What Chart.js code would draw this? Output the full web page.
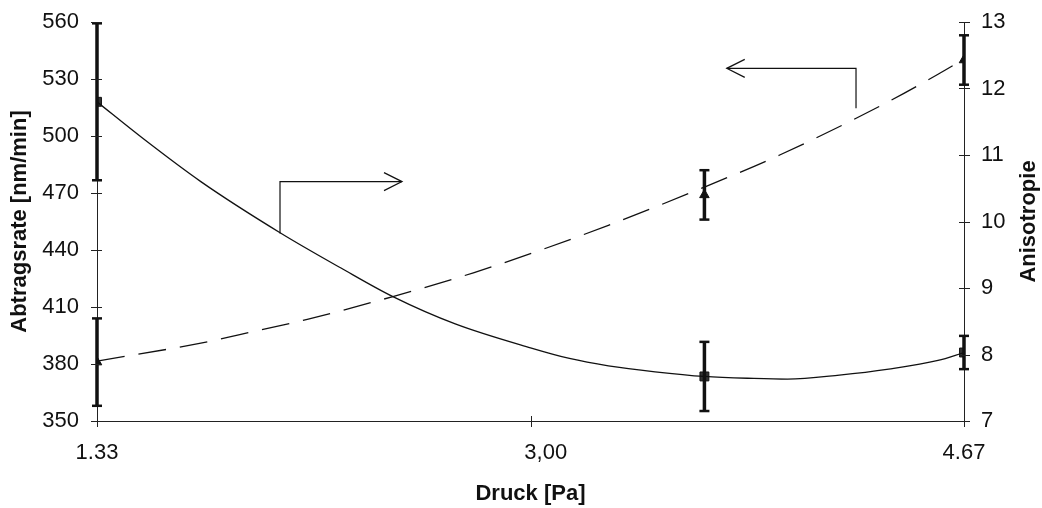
<!DOCTYPE html>
<html>
<head>
<meta charset="utf-8">
<script src="https://cdn.jsdelivr.net/npm/chart.js@4.4.1/dist/chart.umd.min.js"></script>
<style>
html, body { margin: 0; padding: 0; background: #fff; }
#chart { display: block; }
</style>
</head>
<body>
<canvas id="chart" width="1042" height="508"></canvas>
<script>
// measured points (pressure in Pa)
const pressure = [1.33, 3.67, 4.67];
const abtragsrate = [381, 469, 540];
const abtragsrateErr = [23, 13, 13];
const anisotropie = [11.8, 7.67, 8.03];
const anisotropieErr = [1.18, 0.52, 0.25];

// trend curves
const rateTrendX = [1.33, 1.73, 1.88, 2.14, 2.47, 2.78, 3.04, 3.30, 3.65, 3.96, 4.35, 4.57, 4.67];
const rateTrendY = [381.5, 391, 395.5, 403.5, 415.5, 428, 440, 453, 472, 490, 516, 532.5, 540.5];
const anisoTrendX = [1.33, 1.51, 1.73, 2.04, 2.27, 2.47, 2.71, 3.00, 3.15, 3.30, 3.48, 3.67, 3.86, 3.99, 4.19, 4.38, 4.57, 4.67];
const anisoTrendY = [11.80, 11.24, 10.60, 9.82, 9.30, 8.87, 8.46, 8.10, 7.94, 7.83, 7.74, 7.67, 7.64, 7.63, 7.69, 7.78, 7.91, 8.03];

const xTicks = [1.33, 3.00, 4.67];
const xTickLabels = ['1.33', '3,00', '4.67'];

const FONT = '"Liberation Sans", Arial, sans-serif';
const black = '#111';
const pairs = (xs, ys) => xs.map((x, i) => ({ x: x, y: ys[i] }));

Chart.defaults.font.family = FONT;
Chart.defaults.color = black;

function line(ctx, pts) {
    ctx.beginPath();
    pts.forEach((p, i) => i ? ctx.lineTo(p[0], p[1]) : ctx.moveTo(p[0], p[1]));
    ctx.stroke();
}

// y axes: fixed width, no extra top/bottom padding for labels
const fitY = width => s => {
    s.width = width;
    s.paddingTop = 0;
    s.paddingBottom = 0;
};

// error bars, arrows, crossing tick marks, right axis title
const decorations = {
    id: 'decorations',
    afterDatasetsDraw(chart) {
        const { ctx, scales } = chart;
        const x = scales.x;

        ctx.save();
        ctx.strokeStyle = black;
        [[abtragsrate, abtragsrateErr, scales.yRate], [anisotropie, anisotropieErr, scales.yAniso]].forEach(([vals, errs, y]) => {
            vals.forEach((v, i) => {
                const px = x.getPixelForValue(pressure[i]);
                const top = y.getPixelForValue(v + errs[i]);
                const bot = y.getPixelForValue(v - errs[i]);
                ctx.lineWidth = 3.5;
                line(ctx, [[px, top], [px, bot]]);
                ctx.lineWidth = 2.5;
                line(ctx, [[px - 5, top], [px + 5, top]]);
                line(ctx, [[px - 5, bot], [px + 5, bot]]);
            });
        });

        // arrow from solid curve towards right axis
        ctx.lineWidth = 1.2;
        const a1 = [[2.035, 9.82], [2.035, 10.6], [2.505, 10.6]].map(p => [x.getPixelForValue(p[0]), scales.yAniso.getPixelForValue(p[1])]);
        line(ctx, a1);
        const t1 = a1[2];
        line(ctx, [[t1[0] - 18, t1[1] - 9], t1, [t1[0] - 18, t1[1] + 9]]);

        // arrow from dashed curve towards left axis
        const a2 = [[4.254, 514.6], [4.254, 535.6], [3.756, 535.6]].map(p => [x.getPixelForValue(p[0]), scales.yRate.getPixelForValue(p[1])]);
        line(ctx, a2);
        const t2 = a2[2];
        line(ctx, [[t2[0] + 18, t2[1] - 9], t2, [t2[0] + 18, t2[1] + 9]]);
        ctx.restore();
    },
    afterDraw(chart) {
        const { ctx, scales, chartArea } = chart;
        ctx.save();
        ctx.strokeStyle = '#222';
        ctx.lineWidth = 1;
        scales.yRate.ticks.forEach(t => {
            const py = Math.round(scales.yRate.getPixelForValue(t.value)) + 0.5;
            line(ctx, [[chartArea.left - 6, py], [chartArea.left + 5, py]]);
        });
        scales.yAniso.ticks.forEach(t => {
            const py = Math.round(scales.yAniso.getPixelForValue(t.value)) + 0.5;
            line(ctx, [[chartArea.right - 5, py], [chartArea.right + 6, py]]);
        });
        scales.x.ticks.forEach(t => {
            const px = Math.round(scales.x.getPixelForValue(t.value)) + 0.5;
            line(ctx, [[px, chartArea.bottom - 5], [px, chartArea.bottom + 6]]);
        });

        ctx.fillStyle = black;
        ctx.font = 'bold 22px ' + FONT;
        ctx.textAlign = 'center';
        ctx.textBaseline = 'middle';
        ctx.translate(chartArea.right + 65, (chartArea.top + chartArea.bottom) / 2);
        ctx.rotate(-Math.PI / 2);
        ctx.fillText('Anisotropie', 0, 0);
        ctx.restore();
    }
};

new Chart(document.getElementById('chart'), {
    type: 'line',
    data: {
        datasets: [{
            label: 'Anisotropie Trend',
            data: pairs(anisoTrendX, anisoTrendY),
            yAxisID: 'yAniso',
            borderColor: black,
            borderWidth: 1.3,
            pointRadius: 0,
            cubicInterpolationMode: 'monotone',
            fill: false
        }, {
            label: 'Abtragsrate Trend',
            data: pairs(rateTrendX, rateTrendY),
            yAxisID: 'yRate',
            borderColor: black,
            borderWidth: 1.3,
            borderDash: [28, 14],
            pointRadius: 0,
            cubicInterpolationMode: 'monotone',
            fill: false
        }, {
            label: 'Anisotropie',
            data: pairs(pressure, anisotropie),
            yAxisID: 'yAniso',
            showLine: false,
            pointStyle: 'rect',
            pointRadius: 6.3,
            backgroundColor: '#333',
            borderColor: black,
            borderWidth: 1
        }, {
            label: 'Abtragsrate',
            data: pairs(pressure, abtragsrate),
            yAxisID: 'yRate',
            showLine: false,
            pointStyle: 'triangle',
            pointRadius: 5.5,
            backgroundColor: black,
            borderColor: black,
            borderWidth: 1
        }]
    },
    options: {
        responsive: false,
        animation: false,
        layout: { padding: { top: 22, right: 0, bottom: 0, left: 0 } },
        plugins: {
            legend: { display: false },
            tooltip: { enabled: false }
        },
        scales: {
            x: {
                type: 'linear',
                min: 1.33,
                max: 4.67,
                afterBuildTicks: s => { s.ticks = xTicks.map(v => ({ value: v })); },
                afterFit: s => { s.height = 87; },
                ticks: {
                    autoSkip: false,
                    maxRotation: 0,
                    padding: 19,
                    color: black,
                    font: { size: 22 },
                    callback: (v, i) => (i === 1 ? '     ' : '') + xTickLabels[i]
                },
                grid: { display: false, drawTicks: false },
                border: { display: true, color: '#222', width: 1 },
                title: {
                    display: true,
                    text: 'Druck [Pa]',
                    color: black,
                    font: { size: 22, weight: 'bold' },
                    padding: { top: 0, bottom: 1 }
                }
            },
            yRate: {
                position: 'left',
                min: 350,
                max: 560,
                afterFit: fitY(97),
                ticks: { stepSize: 30, padding: 18, color: black, font: { size: 22 } },
                grid: { display: false, drawTicks: false },
                border: { display: true, color: '#222', width: 1 },
                title: {
                    display: true,
                    text: 'Abtragsrate [nm/min]',
                    color: black,
                    font: { size: 22, weight: 'bold' },
                    padding: { top: 7, bottom: 0 }
                }
            },
            yAniso: {
                position: 'right',
                min: 7,
                max: 13,
                afterFit: fitY(78),
                ticks: { stepSize: 1, padding: 17, color: black, font: { size: 22 } },
                grid: { display: false, drawTicks: false },
                border: { display: true, color: '#222', width: 1 }
            }
        }
    },
    plugins: [decorations]
});
</script>
</body>
</html>
